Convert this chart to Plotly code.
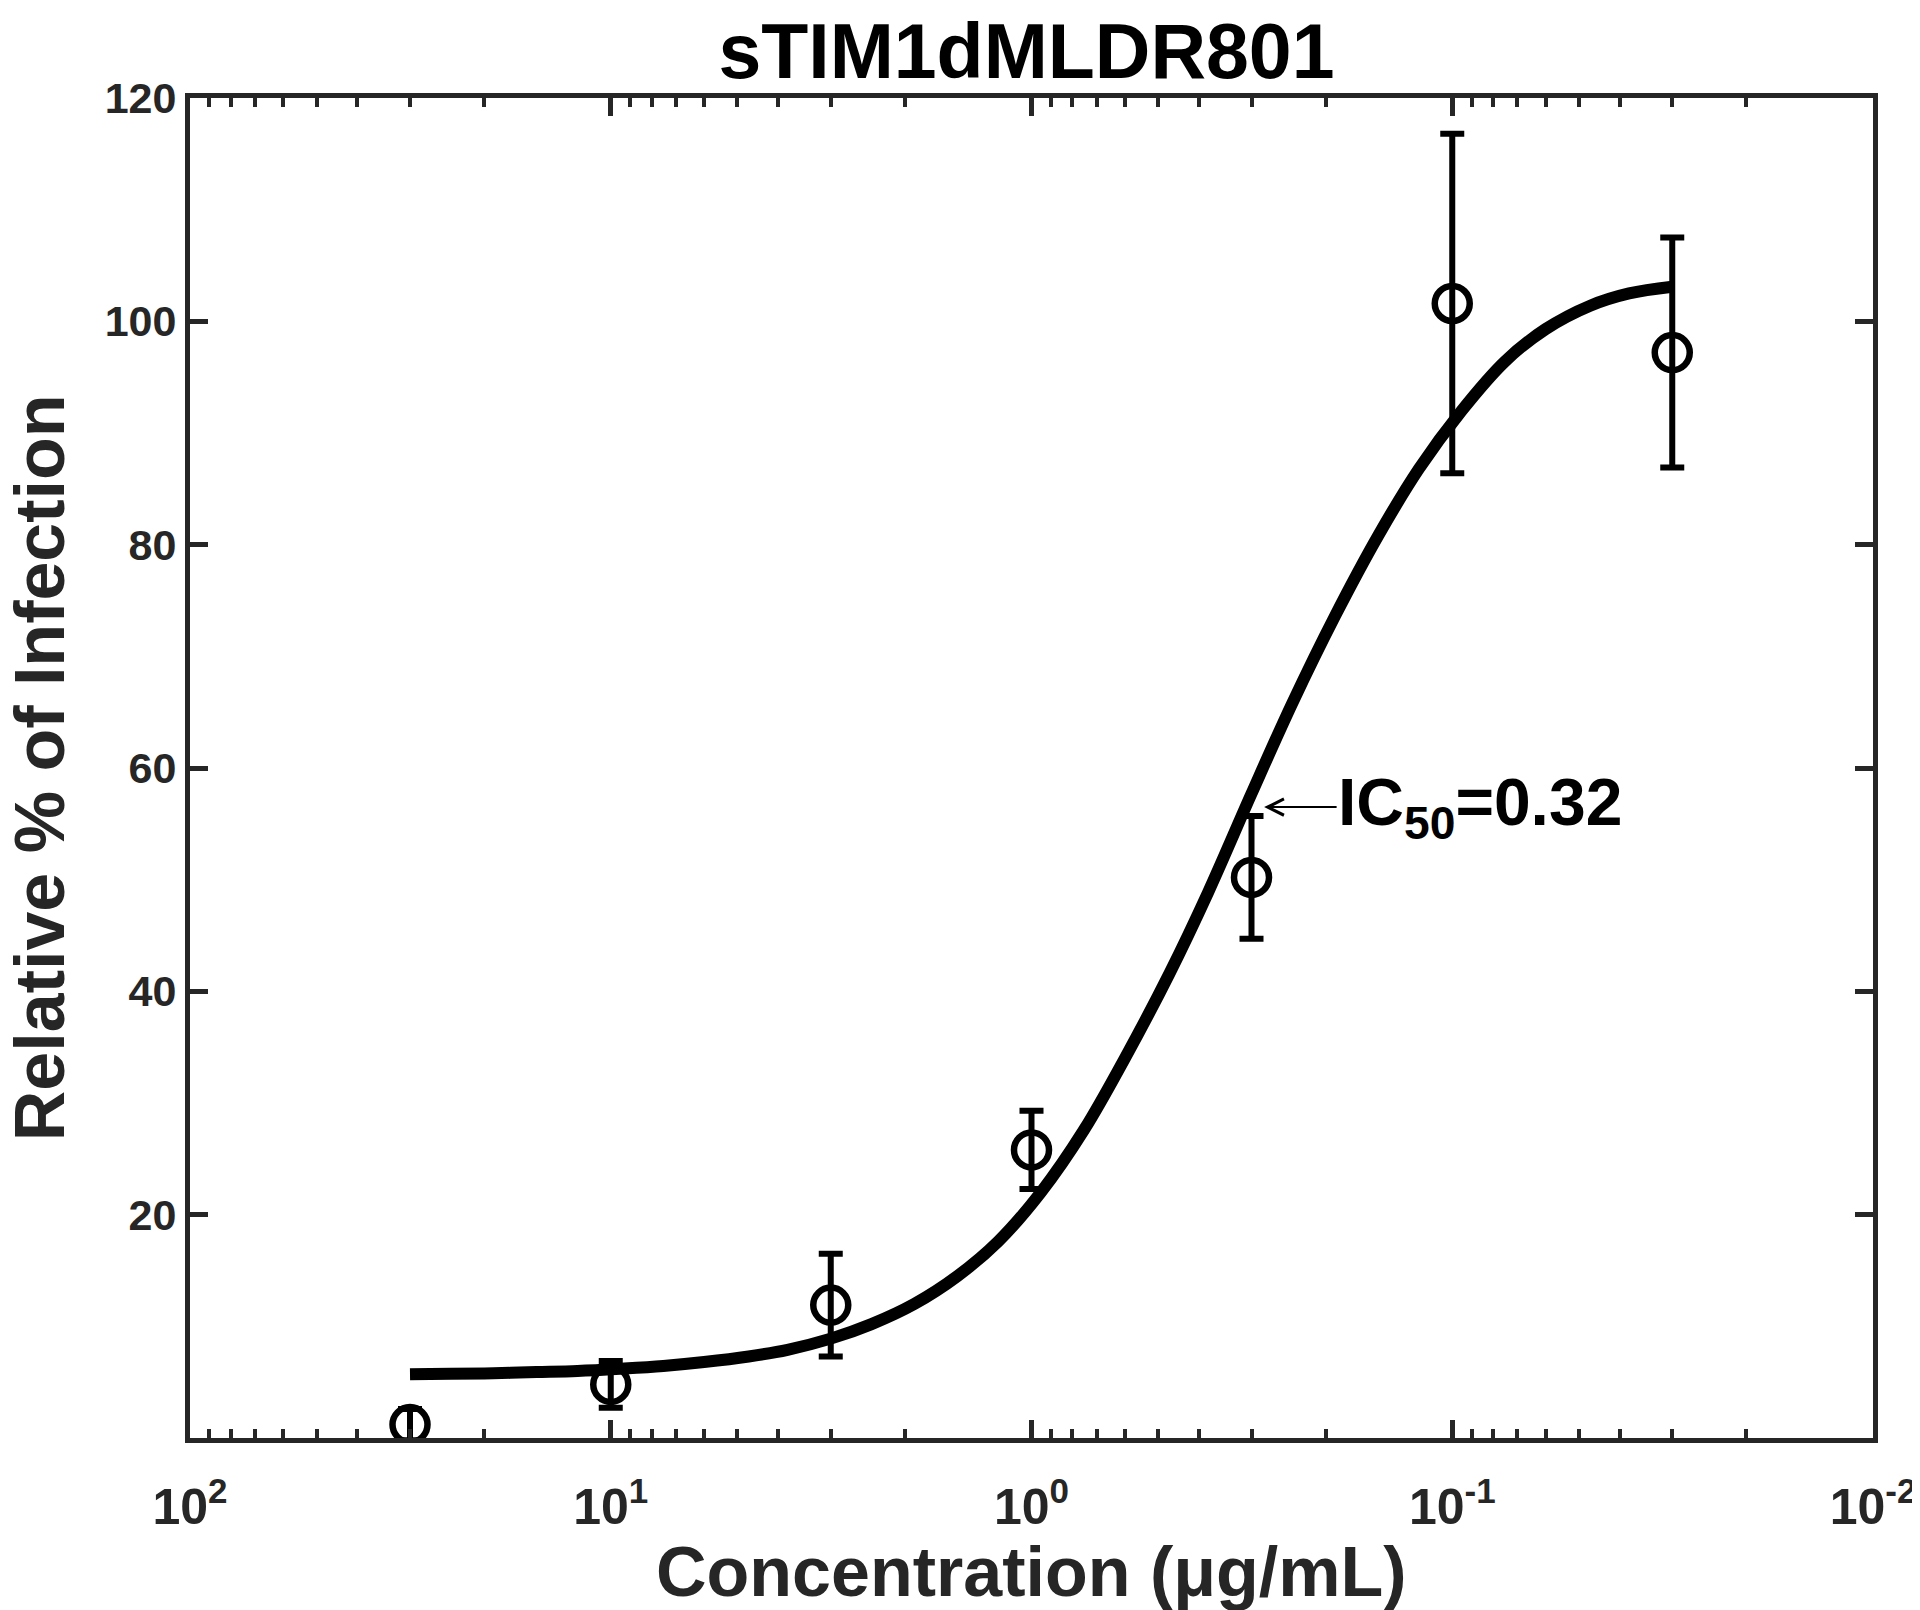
import math
import plotly.graph_objects as go

conc = [30, 10, 3, 1, 0.3, 0.1, 0.03]
infection = [1.2, 4.8, 11.9, 25.8, 50.2, 101.6, 97.2]
infection_err = [1.4, 2.1, 4.6, 3.5, 5.5, 15.2, 10.3]

# fitted dose-response curve
curve_conc = [30, 24, 19, 15, 12, 9.5, 7.5, 6, 4.7, 3.8, 3, 2.4, 1.9, 1.5, 1.2, 0.95,
              0.75, 0.6, 0.47, 0.38, 0.3, 0.24, 0.19, 0.15, 0.12, 0.095, 0.075, 0.06,
              0.047, 0.038, 0.03]
curve_y = [5.7, 5.75, 5.8, 5.9, 6.0, 6.2, 6.45, 6.8, 7.3, 7.9, 8.9, 10.2, 12.0, 14.5,
           17.6, 22.0, 27.6, 34.0, 41.6, 48.9, 57.7, 65.8, 73.6, 80.8, 86.8, 92.0, 96.4,
           99.3, 101.4, 102.5, 103.1]

x_ticks = [100, 10, 1, 0.1, 0.01]
x_ticktext = ["10<sup>2</sup>", "10<sup>1</sup>", "10<sup>0</sup>", "10<sup>-1</sup>", "10<sup>-2</sup>"]
x_minor = [m * 10.0 ** k for k in (-2, -1, 0, 1) for m in range(2, 10)]
y_ticks = [20, 40, 60, 80, 100, 120]

ic50_label = "IC<sub>50</sub>=0.32"
ic50_point = (0.28, 56.5)

AX = "#262626"
FONT = "Liberation Sans, Arial, sans-serif"

fig = go.Figure()
fig.add_trace(go.Scatter(
    x=curve_conc, y=curve_y, mode="lines", line_shape="spline",
    line=dict(color="black", width=12), showlegend=False,
))
fig.add_trace(go.Scatter(
    x=conc, y=infection, mode="markers",
    marker=dict(symbol="circle-open", size=35, color="black", line=dict(width=6.5)),
    error_y=dict(type="data", array=infection_err, color="black", thickness=6, width=12),
    showlegend=False,
))

# log axis: annotation x is given in log10 units
fig.add_annotation(
    x=math.log10(ic50_point[0]), y=ic50_point[1], xref="x", yref="y",
    text=ic50_label, showarrow=True, arrowhead=5, arrowsize=1.6, arrowwidth=2,
    arrowcolor="black", ax=216, ay=0,
    font=dict(family=FONT, size=66, color="black", weight="bold"),
)

# axis titles placed as paper annotations for exact positioning
fig.add_annotation(
    x=0.5, y=-0.1, xref="paper", yref="paper", showarrow=False,
    text="Concentration (μg/mL)", xanchor="center", yanchor="middle",
    font=dict(family=FONT, size=70, color=AX, weight="bold"),
)
fig.add_annotation(
    x=-0.089, y=0.5, xref="paper", yref="paper", showarrow=False, textangle=-90,
    text="Relative % of Infection", xanchor="center", yanchor="middle",
    font=dict(family=FONT, size=70, color=AX, weight="bold"),
)

axis_common = dict(
    showline=True, linecolor=AX, linewidth=5, mirror="allticks",
    ticks="inside", tickcolor=AX, tickwidth=5, showgrid=False, zeroline=False,
)

fig.update_xaxes(
    type="log", range=[2, -2], tickmode="array", tickvals=x_ticks, ticktext=x_ticktext,
    ticklen=18, ticklabelstandoff=21,
    tickfont=dict(family=FONT, size=50, color=AX, weight="bold"),
    minor=dict(ticks="inside", tickmode="array", tickvals=x_minor, ticklen=9,
               tickwidth=4, tickcolor=AX),
    **axis_common,
)
fig.update_yaxes(
    range=[0, 120], tickmode="array", tickvals=y_ticks, ticklen=18,
    tickfont=dict(family=FONT, size=43, color=AX, weight="bold"),
    **axis_common,
)

fig.update_layout(
    width=1920, height=1610,
    margin=dict(l=182, r=47, t=90, b=180),
    paper_bgcolor="white", plot_bgcolor="white",
    title=dict(text="sTIM1dMLDR801", xref="paper", x=0.497, xanchor="center",
               y=0.973, yanchor="middle",
               font=dict(family=FONT, size=77, color="black", weight="bold")),
)

fig.write_html("out.html")
